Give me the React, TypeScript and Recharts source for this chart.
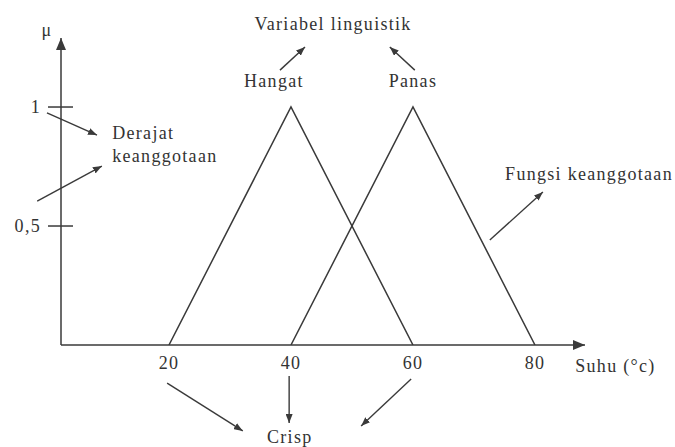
import React from "react";
import {
  LineChart,
  Line,
  XAxis,
  YAxis,
  ReferenceLine,
  ReferenceDot,
} from "recharts";

// Membership functions for the temperature variable (Suhu, °C)
const hangat = [
  { t: 20, mu: 0 },
  { t: 40, mu: 1 },
  { t: 60, mu: 0 },
];
const panas = [
  { t: 40, mu: 0 },
  { t: 60, mu: 1 },
  { t: 80, mu: 0 },
];

const xTicks = [20, 40, 60, 80];
const yTicks = [0.5, 1];
const yTickLabels: Record<string, string> = { "0.5": "0,5", "1": "1" };

const xDomain: [number, number] = [2.3, 88.2];
const yDomain: [number, number] = [0, 1.29];

// Explanatory arrows, in (temperature, membership) units
const noteArrows: [number, number, number, number][] = [
  [38.2, 1.155, 42.3, 1.252],
  [60.3, 1.155, 56.2, 1.252],
  [0.0, 0.975, 8.2, 0.882],
  [-1.6, 0.605, 9.0, 0.752],
  [72.6, 0.441, 81.3, 0.643],
  [19.7, -0.16, 32.1, -0.361],
  [39.7, -0.13, 39.7, -0.328],
  [59.7, -0.143, 51.5, -0.34],
];

// Annotation texts: [text, temperature, membership, anchor]
const notes: [string, number, number, "start" | "middle" | "end"][] = [
  ["μ", 0.0, 1.298, "middle"],
  ["Variabel linguistik", 46.9, 1.324, "middle"],
  ["Hangat", 37.2, 1.084, "middle"],
  ["Panas", 60.0, 1.084, "middle"],
  ["Derajat", 10.7, 0.866, "start"],
  ["keanggotaan", 10.7, 0.769, "start"],
  ["Fungsi keanggotaan", 75.1, 0.693, "start"],
  ["Suhu (°c)", 86.6, -0.113, "start"],
  ["Crisp", 39.8, -0.412, "middle"],
];

const INK = "#3a3a3a";
const TEXT = "#333";
const FONT = "'Liberation Serif', 'DejaVu Serif', serif";
const FONT_SIZE = 18;
const SPACING = 1.3;

const XTick = (props: any) => {
  const { x, y, payload } = props;
  return (
    <text
      x={x}
      y={y + 24}
      textAnchor="middle"
      fill={TEXT}
      fontFamily={FONT}
      fontSize={FONT_SIZE}
      letterSpacing={SPACING}
    >
      {payload.value}
    </text>
  );
};

const YTick = (props: any) => {
  const { x, y, payload } = props;
  return (
    <g>
      <line x1={x - 13} x2={x + 12} y1={y} y2={y} stroke={INK} strokeWidth={1.5} />
      <text
        x={x - 20}
        y={y + 6}
        textAnchor="end"
        fill={TEXT}
        fontFamily={FONT}
        fontSize={FONT_SIZE}
        letterSpacing={SPACING}
      >
        {yTickLabels[String(payload.value)]}
      </text>
    </g>
  );
};

const makeNote =
  (text: string, anchor: "start" | "middle" | "end") => (p: any) =>
    (
      <text
        x={p.cx}
        y={p.cy}
        textAnchor={anchor}
        fill={TEXT}
        fontFamily={FONT}
        fontSize={FONT_SIZE}
        letterSpacing={SPACING}
      >
        {text}
      </text>
    );

export default function App() {
  return (
    <div style={{ position: "absolute", left: 0, top: 0, width: 675, height: 447, background: "#fff" }}>
      <svg width={0} height={0} style={{ position: "absolute" }}>
        <defs>
          <marker
            id="axisArrow"
            viewBox="0 0 12 10"
            markerWidth={12}
            markerHeight={10}
            refX={12}
            refY={5}
            orient="auto-start-reverse"
            markerUnits="userSpaceOnUse"
          >
            <path d="M0,0 L12,5 L0,10 z" fill={INK} />
          </marker>
          <marker
            id="noteArrow"
            viewBox="0 0 9 7"
            markerWidth={9}
            markerHeight={7}
            refX={9}
            refY={3.5}
            orient="auto-start-reverse"
            markerUnits="userSpaceOnUse"
          >
            <path d="M0,0 L9,3.5 L0,7 z" fill={INK} />
          </marker>
        </defs>
      </svg>
      <LineChart
        width={675}
        height={447}
        margin={{ top: 38, right: 90, bottom: 72, left: 21 }}
      >
        <XAxis
          type="number"
          dataKey="t"
          domain={xDomain}
          allowDataOverflow
          ticks={xTicks}
          height={30}
          tickSize={0}
          tickMargin={0}
          tickLine={false}
          tick={<XTick />}
          axisLine={{ stroke: INK, strokeWidth: 1.5, markerEnd: "url(#axisArrow)" }}
        />
        <YAxis
          type="number"
          domain={yDomain}
          allowDataOverflow
          ticks={yTicks}
          width={40}
          tickSize={0}
          tickMargin={0}
          tickLine={false}
          tick={<YTick />}
          axisLine={{ stroke: INK, strokeWidth: 1.5, markerStart: "url(#axisArrow)" }}
        />
        {noteArrows.map(([x1, y1, x2, y2], i) => (
          <ReferenceLine
            key={`a${i}`}
            segment={[
              { x: x1, y: y1 },
              { x: x2, y: y2 },
            ]}
            ifOverflow="visible"
            stroke={INK}
            strokeWidth={1.4}
            markerEnd="url(#noteArrow)"
          />
        ))}
        <Line
          data={hangat}
          dataKey="mu"
          type="linear"
          stroke={INK}
          strokeWidth={1.5}
          dot={false}
          isAnimationActive={false}
        />
        <Line
          data={panas}
          dataKey="mu"
          type="linear"
          stroke={INK}
          strokeWidth={1.5}
          dot={false}
          isAnimationActive={false}
        />
        {notes.map(([text, x, y, anchor], i) => (
          <ReferenceDot
            key={`n${i}`}
            x={x}
            y={y}
            r={0}
            ifOverflow="visible"
            shape={makeNote(text, anchor)}
          />
        ))}
      </LineChart>
    </div>
  );
}
